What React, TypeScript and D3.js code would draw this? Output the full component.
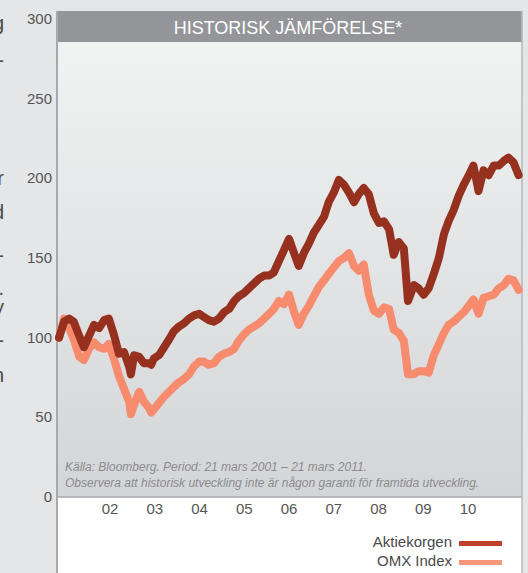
import React from "react";
import * as d3 from "d3";

// decimal years, from 21 mars 2001 to 21 mars 2011
const years = [
  2001.22, 2001.33, 2001.44, 2001.54, 2001.66, 2001.76, 2001.87, 2001.98, 2002.09, 2002.2,
  2002.3, 2002.41, 2002.52, 2002.63, 2002.74, 2002.78, 2002.85, 2002.96, 2003.06, 2003.17,
  2003.22, 2003.28, 2003.39, 2003.5, 2003.61, 2003.71, 2003.82, 2003.93, 2004.04, 2004.15,
  2004.26, 2004.36, 2004.47, 2004.58, 2004.69, 2004.8, 2004.91, 2005.02, 2005.12, 2005.23,
  2005.34, 2005.45, 2005.56, 2005.67, 2005.78, 2005.88, 2005.99, 2006.1, 2006.21, 2006.32,
  2006.42, 2006.53, 2006.64, 2006.75, 2006.86, 2006.97, 2007.07, 2007.18, 2007.29, 2007.4,
  2007.51, 2007.62, 2007.72, 2007.83, 2007.94, 2008.05, 2008.16, 2008.27, 2008.38, 2008.48,
  2008.59, 2008.7, 2008.79, 2008.92, 2009.02, 2009.13, 2009.24, 2009.35, 2009.46, 2009.57,
  2009.67, 2009.78, 2009.89, 2010.0, 2010.11, 2010.21, 2010.32, 2010.43, 2010.54, 2010.65,
  2010.76, 2010.87, 2010.97, 2011.08, 2011.19,
];

const aktiekorgen = [
  100, 110, 112, 110, 101, 94, 101, 108, 106, 111,
  112, 102, 90, 91, 82, 77, 89, 88, 84, 84,
  83, 87, 89, 94, 99, 104, 107, 109, 112, 114,
  115, 113, 111, 110, 112, 116, 118, 123, 126, 128,
  131, 134, 137, 139, 139, 141, 148, 155, 162, 153,
  145, 153, 159, 166, 171, 176, 185, 191, 199, 196,
  191, 185, 190, 194, 190, 178, 172, 173, 168, 152,
  160, 156, 123, 133, 131, 127, 131, 140, 150, 165,
  173, 180, 189, 196, 202, 208, 192, 205, 202, 208,
  208, 211, 213, 210, 202,
];

const omx = [
  100, 112, 106, 99, 88, 86, 93, 97, 94, 93,
  96, 87, 76, 68, 60, 52, 58, 66, 60, 56,
  53, 55, 59, 63, 66, 69, 72, 74, 77, 82,
  85, 85, 83, 84, 88, 90, 91, 93, 98, 102,
  105, 107, 109, 112, 115, 118, 123, 121, 127, 116,
  108, 115, 120, 126, 132, 136, 140, 144, 148, 150,
  153, 145, 142, 146, 127, 117, 115, 119, 118, 105,
  103, 98, 77, 77, 79, 79, 78, 89, 96, 103,
  108, 110, 113, 116, 120, 124, 115, 125, 126, 127,
  131, 133, 137, 136, 130,
];

const yTicks = [0, 50, 100, 150, 200, 250, 300];
const yearLabels = ["02", "03", "04", "05", "06", "07", "08", "09", "10"];
const seriesNames = ["Aktiekorgen", "OMX Index"];
const seriesColors = ["#96301f", "#f68b6e"];
const legendColors = ["#c0402c", "#f5967a"];
// cut-off letters of the neighbouring page column at the left edge
const edgeFragments = ["g", "-", "r", "d", "-", ".", "y", "-", "n"];
const edgeRows = [23, 60, 178, 212, 255, 288, 307, 340, 375];

const W = 528;
const H = 573;
const font = "'Liberation Sans', Arial, Helvetica, sans-serif";

export default function App() {
  const left = 57;
  const right = 522;
  const top = 42;
  const bottom = 497;

  const x = d3.scaleLinear().domain([2001.22, 2011.22]).range([59, 520]);
  const y = d3.scaleLinear().domain([0, 300]).range([bottom, 19]);
  const xLab = d3.scalePoint<string>().domain(yearLabels).range([110, 468]);

  const line = d3
    .line<number>()
    .x((_, i) => x(years[i]))
    .y((d) => y(d));

  return (
    <div style={{ position: "fixed", left: 0, top: 0 }}>
      <svg width={W} height={H} style={{ display: "block" }}>
        <defs>
          <linearGradient id="panel" x1="0" y1="0" x2="0" y2="1">
            <stop offset="0" stopColor="#f1f2f2" />
            <stop offset="1" stopColor="#d4d5d7" />
          </linearGradient>
        </defs>
        <rect x={0} y={0} width={W} height={H} fill="#e5e6e8" />
        {edgeFragments.map((t, i) => (
          <text
            key={i}
            x={4}
            y={edgeRows[i] + 7}
            textAnchor="end"
            fontFamily={font}
            fontSize={20}
            fill="#4a4a4a"
          >
            {t}
          </text>
        ))}
        <rect x={left} y={top} width={right - left} height={bottom - top} fill="url(#panel)" />
        <rect x={left} y={bottom} width={right - left} height={H - bottom} fill="#ffffff" />
        <rect x={left} y={11} width={right - left} height={top - 11} fill="#939598" />
        <text
          x={288}
          y={34}
          textAnchor="middle"
          fontFamily={font}
          fontSize={18}
          fill="#ffffff"
        >
          HISTORISK JÄMFÖRELSE*
        </text>

        <line x1={left} x2={right} y1={bottom} y2={bottom} stroke="#a7a9ac" strokeWidth={1.5} />
        <line x1={left} x2={left} y1={11} y2={H} stroke="#a7a9ac" strokeWidth={2} />
        <line x1={right} x2={right} y1={11} y2={H} stroke="#b5b7ba" strokeWidth={1.5} />

        {yTicks.map((t) => (
          <text
            key={t}
            x={52}
            y={y(t) + 5}
            textAnchor="end"
            fontFamily={font}
            fontSize={15}
            fill="#555555"
          >
            {t}
          </text>
        ))}
        {yearLabels.map((l) => (
          <text
            key={l}
            x={xLab(l)}
            y={514}
            textAnchor="middle"
            fontFamily={font}
            fontSize={15}
            fill="#555555"
          >
            {l}
          </text>
        ))}

        {[omx, aktiekorgen].map((s, i) => (
          <path
            key={i}
            d={line(s) || ""}
            fill="none"
            stroke={seriesColors[1 - i]}
            strokeWidth={8}
            strokeLinejoin="round"
            strokeLinecap="round"
          />
        ))}

        <text x={65} y={471} fontFamily={font} fontSize={12} fontStyle="italic" fill="#8a8c8f">
          Källa: Bloomberg. Period: 21 mars 2001 – 21 mars 2011.
        </text>
        <text x={65} y={487} fontFamily={font} fontSize={12} fontStyle="italic" fill="#8a8c8f">
          Observera att historisk utveckling inte är någon garanti för framtida utveckling.
        </text>

        {seriesNames.map((n, i) => (
          <g key={n}>
            <text
              x={452}
              y={547 + i * 19}
              textAnchor="end"
              fontFamily={font}
              fontSize={15}
              fill="#4a4a4a"
            >
              {n}
            </text>
            <rect x={459} y={541 + i * 19} width={43} height={5} fill={legendColors[i]} />
          </g>
        ))}
      </svg>
    </div>
  );
}
